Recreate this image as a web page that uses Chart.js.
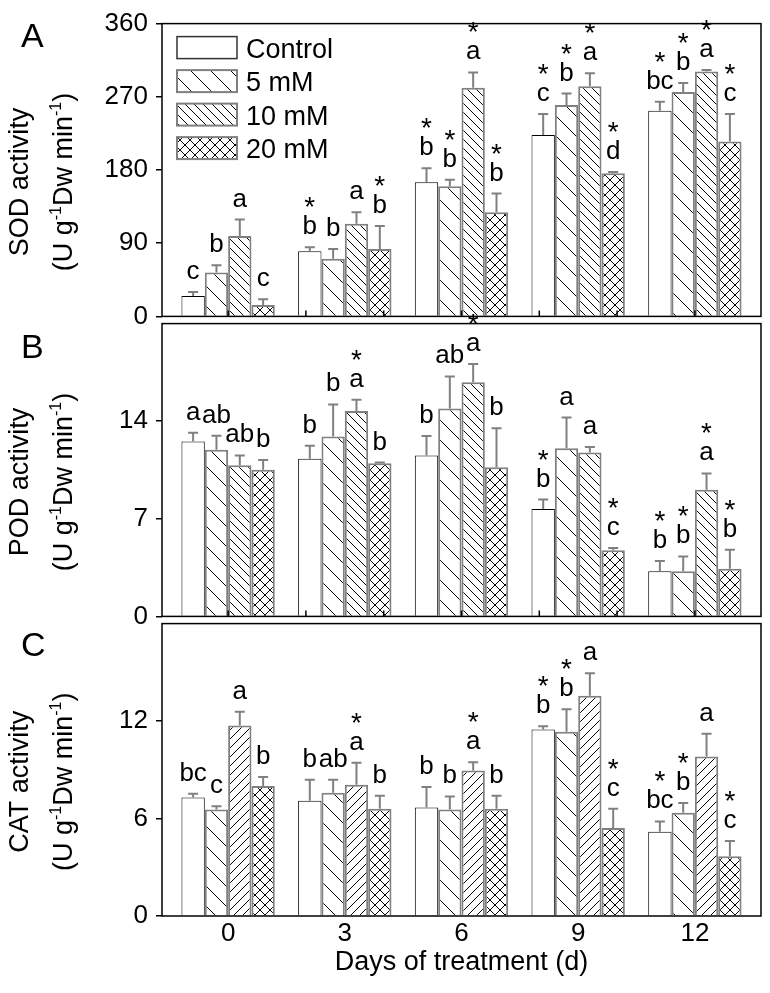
<!DOCTYPE html>
<html>
<head>
<meta charset="utf-8">
<script src="https://cdn.jsdelivr.net/npm/chart.js@4.4.0/dist/chart.umd.min.js"></script>
<style>
  body { margin: 0; background: #fff; width: 770px; height: 993px; position: relative; overflow: hidden; }
  canvas { position: absolute; left: 0; }
</style>
</head>
<body>
<canvas id="panelA" width="770" height="340" style="top:0px"></canvas>
<canvas id="panelB" width="770" height="340" style="top:300px"></canvas>
<canvas id="panelC" width="770" height="393" style="top:600px"></canvas>
<script>
// ---- data ----
const days = [0, 3, 6, 9, 12];
const seriesNames = ['Control', '5 mM', '10 mM', '20 mM'];

// SOD activity
const sodControl = [25, 80, 165, 223, 253];
const sod5mM = [54, 71, 160, 260, 276];
const sod10mM = [99, 114, 281, 283, 301];
const sod20mM = [14, 83, 128, 176, 215];
const sodErrControl = [5, 5, 17, 26, 11];
const sodErr5mM = [9, 12, 8, 14, 11];
const sodErr10mM = [20, 14, 19, 16, 2];
const sodErr20mM = [7, 28, 23, 1.5, 34];
const sodTicks = [0, 90, 180, 270, 360];

// POD activity
const podControl = [12.55, 11.31, 11.54, 7.7, 3.23];
const pod5mM = [11.96, 12.9, 14.91, 12.06, 3.23];
const pod10mM = [10.84, 14.73, 16.8, 11.75, 9.08];
const pod20mM = [10.51, 10.98, 10.7, 4.75, 3.42];
const podErrControl = [0.63, 0.93, 1.4, 0.68, 0.75];
const podErr5mM = [1.0, 2.3, 2.3, 2.2, 1.07];
const podErr10mM = [0.7, 0.8, 1.3, 0.4, 1.17];
const podErr20mM = [0.7, 0.05, 2.8, 0.15, 1.36];
const podTicks = [0, 7, 14];

// CAT activity
const catControl = [7.3, 7.1, 6.68, 11.48, 5.18];
const cat5mM = [6.56, 7.58, 6.56, 11.34, 6.36];
const cat10mM = [11.72, 8.08, 8.96, 13.56, 9.82];
const cat20mM = [8.0, 6.6, 6.6, 5.42, 3.68];
const catErrControl = [0.22, 1.28, 1.26, 0.2, 0.64];
const catErr5mM = [0.2, 0.8, 0.8, 1.38, 0.6];
const catErr10mM = [0.86, 1.36, 0.5, 1.38, 1.4];
const catErr20mM = [0.56, 0.8, 0.8, 1.18, 0.94];
const catTicks = [0, 6, 12];

// significance letters ("*" = significant vs. day 0)
const sodLetters = [
  ['c', 'b*', 'b*', 'c*', 'bc*'],
  ['b', 'b', 'b*', 'b*', 'b*'],
  ['a', 'a', 'a*', 'a*', 'a*'],
  ['c', 'b*', 'b*', 'd*', 'c*']
];
const podLetters = [
  ['a', 'b', 'b', 'b*', 'b*'],
  ['ab', 'b', 'ab', 'a', 'b*'],
  ['ab', 'a*', 'a*', 'a', 'a*'],
  ['b', 'b', 'b', 'c*', 'b*']
];
const catLetters = [
  ['bc', 'b', 'b', 'b*', 'bc*'],
  ['c', 'ab', 'b', 'b*', 'b*'],
  ['a', 'a*', 'a*', 'a', 'a'],
  ['b', 'b', 'b', 'c*', 'c*']
];

const innerTicks = [0, 2, 4, 6, 8, 10, 12];

// ---- styling ----
const FONT = "'Liberation Sans', Arial, sans-serif";
Chart.defaults.font.family = FONT;
Chart.defaults.color = '#000';

function makePattern(ctx, kind) {
  if (kind === 'none') return '#ffffff';
  const size = kind === 'bsSparse' ? 20 : (kind === 'cross' ? 10 : 9);
  const c = document.createElement('canvas');
  c.width = c.height = size;
  const g = c.getContext('2d');
  g.fillStyle = '#fff';
  g.fillRect(0, 0, size, size);
  g.strokeStyle = '#000';
  g.lineWidth = 1;
  g.beginPath();
  for (const k of [-size, 0, size]) {
    if (kind !== 'fsDense') { g.moveTo(k, 0); g.lineTo(k + size, size); }
    if (kind === 'fsDense' || kind === 'cross') { g.moveTo(k, size); g.lineTo(k + size, 0); }
  }
  g.stroke();
  return ctx.createPattern(c, 'repeat');
}

function drawYTitle(ctx, name, cy) {
  ctx.save();
  ctx.fillStyle = '#000';
  ctx.textAlign = 'left';
  ctx.textBaseline = 'alphabetic';
  ctx.font = '27px ' + FONT;
  const w1 = ctx.measureText(name).width;
  ctx.translate(28, cy);
  ctx.rotate(-Math.PI / 2);
  ctx.fillText(name, -w1 / 2, 0);
  ctx.restore();

  const pieces = [['(U g', false], ['-1', true], ['Dw min', false], ['-1', true], [')', false]];
  ctx.save();
  ctx.fillStyle = '#000';
  ctx.textBaseline = 'alphabetic';
  let total = 0;
  const widths = pieces.map(([t, sup]) => {
    ctx.font = (sup ? '16px ' : '27px ') + FONT;
    const w = ctx.measureText(t).width;
    total += w;
    return w;
  });
  ctx.translate(72, cy);
  ctx.rotate(-Math.PI / 2);
  let x = -total / 2;
  pieces.forEach(([t, sup], i) => {
    ctx.font = (sup ? '16px ' : '27px ') + FONT;
    ctx.fillText(t, x, sup ? -11 : 0);
    x += widths[i];
  });
  ctx.restore();
}

function decor(p) {
  return {
    id: 'decor' + p.letter,
    afterDatasetsDraw(chart) {
      const { ctx, chartArea: a, scales: { x, y } } = chart;
      ctx.save();
      // error bars
      ctx.strokeStyle = '#808080';
      ctx.lineWidth = 2;
      chart.data.datasets.forEach((ds, i) => {
        chart.getDatasetMeta(i).data.forEach((bar, j) => {
          const top = y.getPixelForValue(p.values[i][j] + p.errors[i][j]);
          ctx.beginPath();
          ctx.moveTo(bar.x, bar.y);
          ctx.lineTo(bar.x, top);
          ctx.moveTo(bar.x - 5, top);
          ctx.lineTo(bar.x + 5, top);
          ctx.stroke();
        });
      });
      // letters and asterisks
      ctx.fillStyle = '#000';
      ctx.textAlign = 'center';
      ctx.textBaseline = 'alphabetic';
      chart.data.datasets.forEach((ds, i) => {
        chart.getDatasetMeta(i).data.forEach((bar, j) => {
          const lab = p.letters[i][j];
          const top = y.getPixelForValue(p.values[i][j] + p.errors[i][j]);
          const base = top - 13;
          ctx.font = '26px ' + FONT;
          ctx.fillText(lab.replace('*', ''), bar.x, base);
          if (lab.includes('*')) {
            ctx.font = '28px ' + FONT;
            ctx.fillText('*', bar.x, base - 18);
          }
        });
      });
      // small inward ticks on the shared x axis
      if (p.innerTicks) {
        ctx.strokeStyle = '#000';
        ctx.lineWidth = 1.5;
        ctx.beginPath();
        innerTicks.forEach(v => {
          const px = x.getPixelForValue(v);
          ctx.moveTo(px, a.bottom);
          ctx.lineTo(px, a.bottom - 6);
        });
        ctx.stroke();
      }
      ctx.restore();
    },
    afterDraw(chart) {
      const { ctx, chartArea: a } = chart;
      ctx.save();
      ctx.strokeStyle = '#000';
      ctx.lineWidth = 1.5;
      ctx.strokeRect(a.left, a.top, a.right - a.left, a.bottom - a.top);
      // panel letter
      ctx.fillStyle = '#000';
      ctx.font = '34px ' + FONT;
      ctx.textAlign = 'left';
      ctx.textBaseline = 'alphabetic';
      ctx.fillText(p.letter, 21, a.top + p.letterDy);
      ctx.restore();
      drawYTitle(ctx, p.title, (a.top + a.bottom) / 2 + 12);
      // legend
      if (p.legend) {
        ctx.save();
        chart.data.datasets.forEach((ds, i) => {
          const bx = 177, by = a.top + 13 + i * 33.5;
          ctx.fillStyle = ds.backgroundColor;
          ctx.fillRect(bx, by, 60, 22);
          ctx.strokeStyle = i === 0 ? '#333' : '#808080';
          ctx.lineWidth = i === 0 ? 1.5 : 2;
          ctx.strokeRect(bx, by, 60, 22);
          ctx.fillStyle = '#000';
          ctx.font = '27px ' + FONT;
          ctx.textAlign = 'left';
          ctx.fillText(ds.label, 246, by + 21);
        });
        ctx.restore();
      }
    }
  };
}

function makePanel(id, p) {
  const ctx = document.getElementById(id).getContext('2d');
  const fills = p.patterns.map(k => makePattern(ctx, k));
  const datasets = p.values.map((vals, i) => ({
    label: seriesNames[i],
    data: days.map((d, j) => ({ x: d, y: vals[j] })),
    backgroundColor: fills[i],
    borderColor: i === 0 ? '#000' : '#808080',
    borderWidth: i === 0 ? 1 : 2,
    borderSkipped: 'bottom',
    categoryPercentage: 0.8,
    barPercentage: 1
  }));
  const xAxis = {
    type: 'linear', min: -1.7, max: 13.7, offset: false,
    display: p.showX,
    afterBuildTicks: s => { s.ticks = days.map(v => ({ value: v })); },
    grid: { display: false, drawTicks: false },
    border: { display: false },
    ticks: { font: { size: 26 }, color: '#000', padding: 2, maxRotation: 0, autoSkip: false }
  };
  if (p.showX) {
    xAxis.afterFit = s => { s.height = 77; };
    xAxis.title = { display: true, text: 'Days of treatment (d)', font: { size: 27 }, color: '#000', padding: { top: 0, bottom: 14 } };
  }
  return new Chart(ctx, {
    type: 'bar',
    data: { datasets },
    options: {
      responsive: false,
      animation: false,
      events: [],
      layout: { padding: p.padding },
      plugins: { legend: { display: false }, tooltip: { enabled: false } },
      scales: {
        x: xAxis,
        y: {
          min: 0, max: p.max,
          afterFit: s => { s.width = 162; },
          afterBuildTicks: s => { s.ticks = p.ticks.map(v => ({ value: v })); },
          ticks: { font: { size: 26 }, color: '#000', padding: 8 },
          grid: { drawOnChartArea: false, tickLength: 6, color: '#000', lineWidth: 1.5 },
          border: { display: false }
        }
      }
    },
    plugins: [decor(p)]
  });
}

makePanel('panelA', {
  letter: 'A', letterDy: 23, title: 'SOD activity', legend: true, innerTicks: true, showX: false,
  max: 360, ticks: sodTicks,
  values: [sodControl, sod5mM, sod10mM, sod20mM],
  errors: [sodErrControl, sodErr5mM, sodErr10mM, sodErr20mM],
  letters: sodLetters,
  patterns: ['none', 'bsSparse', 'bsDense', 'cross'],
  padding: { left: 0, right: 9, top: 20, bottom: 21 }
});

makePanel('panelB', {
  letter: 'B', letterDy: 34, title: 'POD activity', legend: false, innerTicks: true, showX: false,
  max: 21, ticks: podTicks,
  values: [podControl, pod5mM, pod10mM, pod20mM],
  errors: [podErrControl, podErr5mM, podErr10mM, podErr20mM],
  letters: podLetters,
  patterns: ['none', 'bsSparse', 'bsDense', 'cross'],
  padding: { left: 0, right: 9, top: 19, bottom: 23 }
});

makePanel('panelC', {
  letter: 'C', letterDy: 32, title: 'CAT activity', legend: false, innerTicks: false, showX: true,
  max: 18, ticks: catTicks,
  values: [catControl, cat5mM, cat10mM, cat20mM],
  errors: [catErrControl, catErr5mM, catErr10mM, catErr20mM],
  letters: catLetters,
  patterns: ['none', 'bsSparse', 'fsDense', 'cross'],
  padding: { left: 0, right: 9, top: 17, bottom: 0 }
});
</script>
</body>
</html>
